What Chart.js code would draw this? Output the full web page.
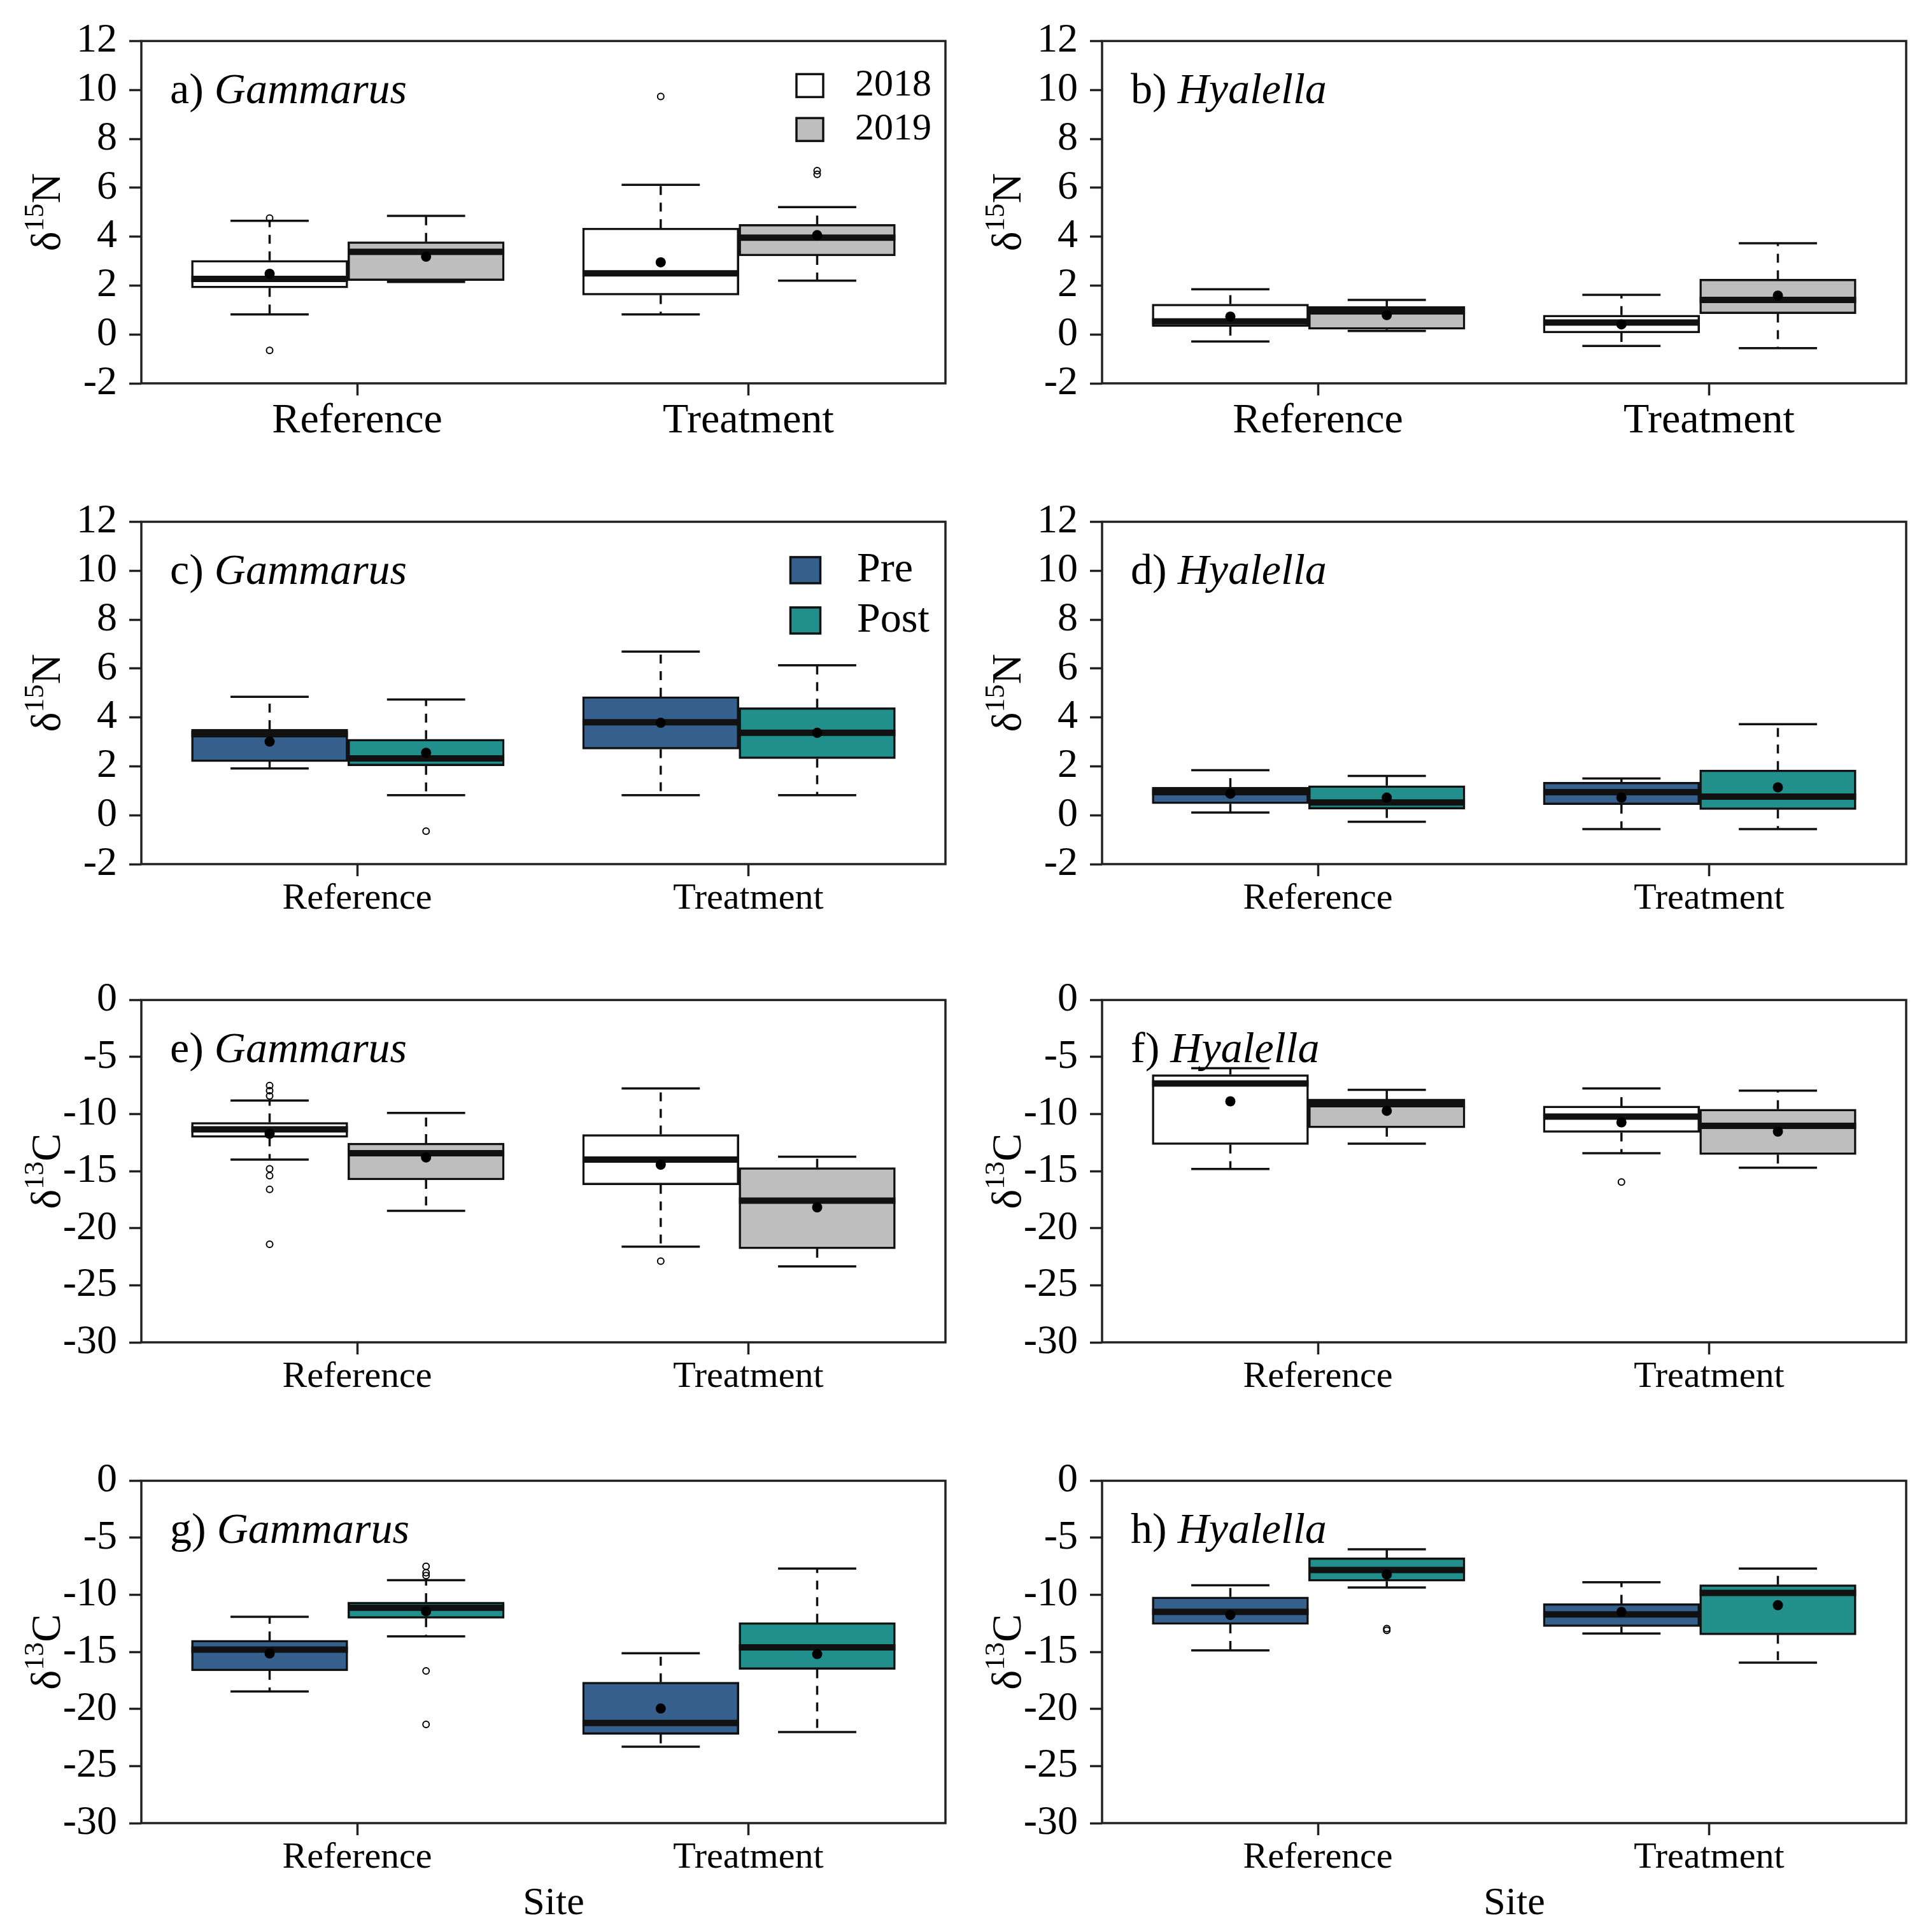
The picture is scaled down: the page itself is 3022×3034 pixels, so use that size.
<!DOCTYPE html>
<html>
<head>
<meta charset="utf-8">
<script src="https://cdn.jsdelivr.net/npm/chart.js@4.4.0/dist/chart.umd.min.js"></script>
<style>
  html, body { margin: 0; padding: 0; background: #fff; overflow: hidden; }
  #page { position: relative; width: 3022px; height: 3034px; }
  #page canvas { position: absolute; }
</style>
</head>
<body>
<div id="page"></div>
<script>
// ---- data ----
const sites = ['Reference', 'Treatment'];
const years = ['2018', '2019'];
const periods = ['Pre', 'Post'];

// each box: [lower whisker, Q1, median, Q3, upper whisker]
// order: Reference-1st, Reference-2nd, Treatment-1st, Treatment-2nd
const aBoxes = [[0.82, 1.90, 2.27, 3.03, 4.65], [2.15, 2.20, 3.38, 3.79, 4.85], [0.82, 1.61, 2.50, 4.35, 6.12], [2.20, 3.21, 3.96, 4.50, 5.21]];
const aMeans = [2.48, 3.18, 2.95, 4.06];
const aOutliers = [[4.76, -0.65], [], [9.73], [6.55, 6.70]];

const bBoxes = [[-0.29, 0.32, 0.53, 1.24, 1.85], [0.14, 0.21, 0.94, 1.14, 1.41], [-0.47, 0.06, 0.49, 0.79, 1.62], [-0.56, 0.85, 1.41, 2.26, 3.73]];
const bMeans = [0.73, 0.79, 0.41, 1.59];
const bOutliers = [[], [], [], []];

const cBoxes = [[1.91, 2.19, 3.31, 3.52, 4.84], [0.82, 2.02, 2.32, 3.11, 4.73], [0.82, 2.70, 3.80, 4.85, 6.69], [0.82, 2.31, 3.37, 4.40, 6.13]];
const cMeans = [3.01, 2.55, 3.78, 3.37];
const cOutliers = [[], [-0.65], [], [9.75]];

const dBoxes = [[0.11, 0.47, 0.94, 1.15, 1.84], [-0.27, 0.25, 0.52, 1.21, 1.61], [-0.57, 0.43, 0.94, 1.35, 1.50], [-0.57, 0.23, 0.76, 1.85, 3.72]];
const dMeans = [0.88, 0.72, 0.72, 1.14];
const dOutliers = [[], [], [], []];

const eBoxes = [[-13.98, -12.04, -11.33, -10.72, -8.81], [-18.47, -15.77, -13.42, -12.54, -9.89], [-21.62, -16.20, -13.98, -11.78, -7.75], [-23.34, -21.80, -17.59, -14.69, -13.73]];
const eMeans = [-11.73, -13.80, -14.43, -18.17];
const eOutliers = [[-7.5, -7.95, -8.4, -14.8, -15.4, -16.6, -21.4], [], [-22.89], []];

const fBoxes = [[-14.81, -12.67, -7.32, -6.54, -5.98], [-12.59, -11.20, -9.13, -8.68, -7.87], [-13.42, -11.61, -10.22, -9.29, -7.75], [-14.69, -13.55, -11.03, -9.56, -7.95]];
const fMeans = [-8.88, -9.71, -10.72, -11.53];
const fOutliers = [[], [], [-15.95], []];

const gBoxes = [[-18.46, -16.66, -14.79, -13.98, -11.92], [-13.64, -12.05, -11.12, -10.63, -8.71], [-23.31, -22.23, -21.22, -17.65, -15.11], [-22.02, -16.53, -14.60, -12.43, -7.69]];
const gMeans = [-15.13, -11.44, -19.96, -15.19];
const gOutliers = [[], [-7.5, -8.05, -8.3, -16.66, -21.35], [], []];

const hBoxes = [[-14.87, -12.59, -11.49, -10.18, -9.16], [-9.35, -8.81, -7.82, -6.75, -6.00], [-13.39, -12.78, -11.71, -10.77, -8.89], [-15.94, -13.50, -9.83, -9.11, -7.69]];
const hMeans = [-11.76, -8.22, -11.49, -10.90];
const hOutliers = [[], [-12.95, -13.1], [], []];

// ---- layout / style ----
const FONT = '"Liberation Serif", "Times New Roman", serif';
const boxAt = [1, 2, 3.5, 4.5];
const siteTickAt = [1.56, 4.06];
const yearColors = ['#ffffff', '#bebebe'];
const periodColors = ['#35608d', '#21908c'];
const colLeft = [0, 1509];
const rowTop = [7, 762, 1513, 2268];
const LW = 3.5;

const panels = [
  {letter: 'a', species: 'Gammarus', iso: 'N', boxes: aBoxes, means: aMeans, outliers: aOutliers, groups: years, colors: yearColors, col: 0, row: 0,
    legend: {x: 1050, y: 70, dy: 69, w: 42, h: 36, textX: 1121, size: 60}},
  {letter: 'b', species: 'Hyalella', iso: 'N', boxes: bBoxes, means: bMeans, outliers: bOutliers, groups: years, colors: yearColors, col: 1, row: 0},
  {letter: 'c', species: 'Gammarus', iso: 'N', boxes: cBoxes, means: cMeans, outliers: cOutliers, groups: periods, colors: periodColors, col: 0, row: 1,
    legend: {x: 1043, y: 76, dy: 79, w: 47, h: 41, textX: 1124, size: 66}},
  {letter: 'd', species: 'Hyalella', iso: 'N', boxes: dBoxes, means: dMeans, outliers: dOutliers, groups: periods, colors: periodColors, col: 1, row: 1},
  {letter: 'e', species: 'Gammarus', iso: 'C', boxes: eBoxes, means: eMeans, outliers: eOutliers, groups: years, colors: yearColors, col: 0, row: 2},
  {letter: 'f', species: 'Hyalella', iso: 'C', boxes: fBoxes, means: fMeans, outliers: fOutliers, groups: years, colors: yearColors, col: 1, row: 2},
  {letter: 'g', species: 'Gammarus', iso: 'C', boxes: gBoxes, means: gMeans, outliers: gOutliers, groups: periods, colors: periodColors, col: 0, row: 3},
  {letter: 'h', species: 'Hyalella', iso: 'C', boxes: hBoxes, means: hMeans, outliers: hOutliers, groups: periods, colors: periodColors, col: 1, row: 3}
];

// box frame around the plotting region (R style bty="o")
const framePlugin = {
  id: 'frame',
  afterDraw(chart) {
    const {ctx, chartArea: a} = chart;
    ctx.save();
    ctx.lineWidth = LW;
    ctx.strokeStyle = '#222';
    ctx.strokeRect(a.left, a.top, a.right - a.left, a.bottom - a.top);
    ctx.restore();
  }
};

// panel tag, y title with superscript, in-plot legend, "Site"
const notesPlugin = {
  id: 'notes',
  afterDraw(chart, args, o) {
    const {ctx, chartArea: a} = chart;
    ctx.save();
    ctx.fillStyle = '#000';
    ctx.textBaseline = 'alphabetic';

    ctx.font = `68px ${FONT}`;
    let x = a.left + 45;
    const y = a.top + 98;
    const tag = o.letter + ') ';
    ctx.fillText(tag, x, y);
    x += ctx.measureText(tag).width;
    ctx.font = `italic 68px ${FONT}`;
    ctx.fillText(o.species, x, y);

    // y title
    ctx.save();
    ctx.translate(72, (a.top + a.bottom) / 2);
    ctx.rotate(-Math.PI / 2);
    ctx.font = `66px ${FONT}`;
    const wd = ctx.measureText('δ').width;
    const wn = ctx.measureText(o.iso).width;
    ctx.font = `44px ${FONT}`;
    const ws = ctx.measureText('15').width;
    const sup = o.iso === 'N' ? '15' : '13';
    let u = -(wd + ws + wn) / 2;
    const v = 22;
    ctx.font = `66px ${FONT}`;
    ctx.fillText('δ', u, v); u += wd;
    ctx.font = `44px ${FONT}`;
    ctx.fillText(sup, u, v - 26); u += ws;
    ctx.font = `66px ${FONT}`;
    ctx.fillText(o.iso, u, v);
    ctx.restore();

    if (o.legend) {
      const L = o.legend;
      ctx.lineWidth = LW;
      ctx.strokeStyle = '#111';
      ctx.textBaseline = 'middle';
      ctx.font = `${L.size}px ${FONT}`;
      o.groups.forEach((g, i) => {
        const cx = a.left + L.x, cy = a.top + L.y + i * L.dy;
        ctx.fillStyle = o.colors[i];
        ctx.fillRect(cx - L.w / 2, cy - L.h / 2, L.w, L.h);
        ctx.strokeRect(cx - L.w / 2, cy - L.h / 2, L.w, L.h);
        ctx.fillStyle = '#000';
        ctx.fillText(g, a.left + L.textX, cy);
      });
    }

    if (o.site) {
      ctx.textAlign = 'center';
      ctx.textBaseline = 'middle';
      ctx.font = `62px ${FONT}`;
      ctx.fillStyle = '#000';
      ctx.fillText('Site', (a.left + a.right) / 2 + 16, a.bottom + 127);
    }
    ctx.restore();
  }
};

function buildDatasets(p) {
  const whiskers = [], caps = [], medians = [];
  p.boxes.forEach((b, i) => {
    const x = boxAt[i];
    whiskers.push({x, y: b[3]}, {x, y: b[4]}, {x, y: null}, {x, y: b[1]}, {x, y: b[0]}, {x, y: null});
    caps.push({x: x - 0.25, y: b[4]}, {x: x + 0.25, y: b[4]}, {x, y: null},
              {x: x - 0.25, y: b[0]}, {x: x + 0.25, y: b[0]}, {x, y: null});
    medians.push({x: x - 0.5, y: b[2]}, {x: x + 0.5, y: b[2]}, {x, y: null});
  });
  const boxSet = (idx, k) => ({
    type: 'bar',
    label: p.groups[k],
    data: idx.map(i => ({x: boxAt[i], y: [p.boxes[i][1], p.boxes[i][3]]})),
    backgroundColor: p.colors[k],
    borderColor: '#111',
    borderWidth: LW,
    borderSkipped: false,
    grouped: false,
    categoryPercentage: 1,
    barPercentage: 1,
    order: 5
  });
  const lineSet = (data, extra) => Object.assign({
    type: 'line', data, borderColor: '#111', borderWidth: LW, pointRadius: 0,
    spanGaps: false, fill: false, tension: 0
  }, extra);
  return [
    boxSet([0, 2], 0),
    boxSet([1, 3], 1),
    lineSet(whiskers, {borderDash: [14, 12], order: 4}),
    lineSet(caps, {order: 4}),
    lineSet(medians, {borderWidth: 10, borderCapStyle: 'butt', order: 3}),
    lineSet(p.means.map((m, i) => ({x: boxAt[i], y: m})), {
      showLine: false, pointRadius: 8, pointBackgroundColor: '#000', pointBorderWidth: 0, order: 1
    }),
    lineSet(p.outliers.flatMap((arr, i) => arr.map(v => ({x: boxAt[i], y: v}))), {
      showLine: false, pointRadius: 5, pointBackgroundColor: 'rgba(0,0,0,0)',
      pointBorderColor: '#000', pointBorderWidth: 2, order: 1
    })
  ];
}

const page = document.getElementById('page');
panels.forEach(p => {
  const bottomRow = p.row === 3;
  const xAxisH = bottomRow ? 170 : 150;
  const canvas = document.createElement('canvas');
  canvas.width = 1510;
  canvas.height = 50 + 545 + xAxisH;
  canvas.style.left = colLeft[p.col] + 'px';
  canvas.style.top = rowTop[p.row] + 'px';
  page.appendChild(canvas);

  const isN = p.iso === 'N';
  const tickFont = p.row === 0 ? 66 : 58;

  new Chart(canvas, {
    type: 'bar',
    data: {datasets: buildDatasets(p)},
    options: {
      responsive: false,
      animation: false,
      devicePixelRatio: 1,
      events: [],
      layout: {padding: {top: 50, right: 25, left: 0, bottom: 0}},
      plugins: {
        legend: {display: false},
        tooltip: {enabled: false},
        notes: {letter: p.letter, species: p.species, iso: p.iso, legend: p.legend,
                groups: p.groups, colors: p.colors, site: bottomRow}
      },
      scales: {
        x: {
          type: 'linear',
          min: 0.18,
          max: 5.32,
          offset: false,
          bounds: 'data',
          afterBuildTicks: s => { s.ticks = siteTickAt.map(v => ({value: v})); },
          afterFit: s => { s.height = xAxisH; },
          border: {display: false},
          grid: {display: true, offset: false, drawOnChartArea: false, drawTicks: true,
                 tickLength: 19, tickWidth: LW, tickColor: '#222'},
          ticks: {
            autoSkip: false, maxRotation: 0, padding: 1, color: '#000',
            font: {family: FONT, size: tickFont},
            callback: (v, i) => sites[i]
          }
        },
        y: {
          type: 'linear',
          min: isN ? -2 : -30,
          max: isN ? 12 : 0,
          afterFit: s => { s.width = 222; },
          border: {display: false},
          grid: {display: true, drawOnChartArea: false, drawTicks: true,
                 tickLength: 19, tickWidth: LW, tickColor: '#222'},
          ticks: {
            autoSkip: false, stepSize: isN ? 2 : 5, padding: 19, color: '#000',
            font: {family: FONT, size: 64},
            callback: v => String(v)
          }
        }
      }
    },
    plugins: [framePlugin, notesPlugin]
  });
});
</script>
</body>
</html>
